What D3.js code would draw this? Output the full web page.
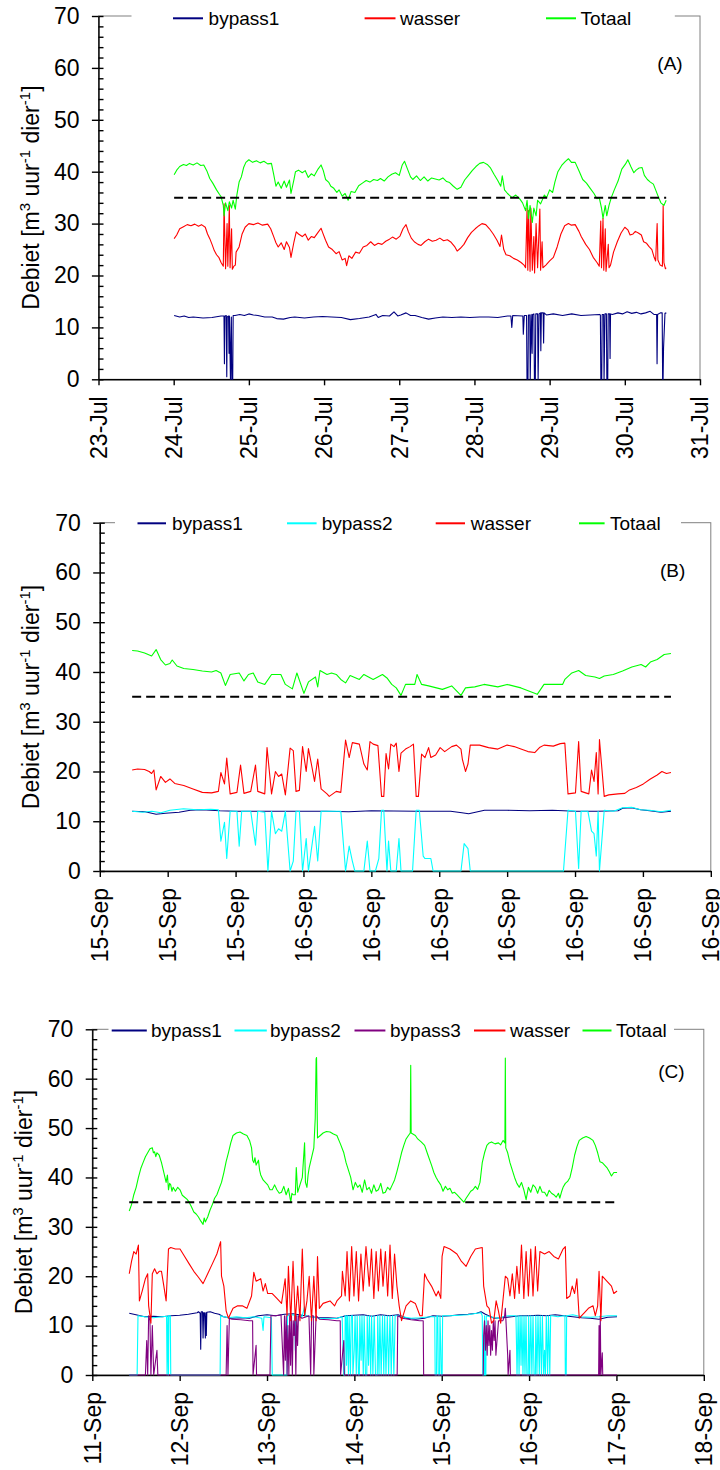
<!DOCTYPE html>
<html><head><meta charset="utf-8">
<script src="https://cdn.jsdelivr.net/npm/d3@7"></script>
<style>
body{margin:0;background:#fff}
svg{display:block}
text{font-family:"Liberation Sans",Arial,sans-serif;fill:#000}
</style></head>
<body><svg id="chart" width="720" height="1470"></svg>
<script>
// ---------------- DATA ----------------
const yTicks = [0,10,20,30,40,50,60,70];
const refLevel = 35;

// Panel A  (time = fractional day of July)
const aTickDays = [23,24,25,26,27,28,29,30,31];
const aTickLabels = ["23-Jul","24-Jul","25-Jul","26-Jul","27-Jul","28-Jul","29-Jul","30-Jul","31-Jul"];
const aNames = ["bypass1","wasser","Totaal"];
const aBypass1 = [[24.006,12.3],[24.08,12.0],[24.14,12.2],[24.20,11.9],[24.26,12.0],[24.39,11.8],[24.51,11.9],[24.63,12.2],
[24.669,12.2],[24.675,3.0],[24.681,12.2],[24.699,12.3],[24.706,0.5],[24.712,12.0],[24.730,12.2],[24.736,5.0],[24.742,12.2],[24.755,0],[24.767,12.0],[24.773,0],[24.785,0],[24.791,12.3],[24.816,12.3],
[24.88,12.5],[24.94,12.3],[25.00,12.6],[25.06,12.4],[25.12,12.3],[25.21,12.0],[25.31,12.0],[25.37,11.7],[25.46,11.6],[25.55,11.9],[25.61,12.0],[25.74,11.8],[25.86,12.0],[25.98,12.1],[26.10,12.0],[26.23,11.9],[26.35,11.5],[26.47,11.7],[26.60,12.0],[26.69,12.5],[26.72,11.9],[26.78,12.3],[26.87,12.2],[26.93,13.0],[26.98,12.2],[27.02,12.4],[27.09,12.8],[27.15,12.3],[27.21,12.3],[27.30,11.9],[27.39,11.6],[27.48,11.8],[27.58,12.0],[27.70,11.9],[27.82,12.0],[27.94,11.9],[28.07,12.0],[28.19,12.0],[28.31,11.9],[28.44,12.2],
[28.485,12.2],[28.497,10.0],[28.509,12.3],[28.644,12.2],[28.650,8.7],[28.663,12.3],
[28.693,12.3],[28.699,0],[28.712,0],[28.718,12.4],[28.736,12.4],[28.742,0],[28.755,12.5],[28.767,5],[28.773,12.5],[28.791,12.6],[28.798,0],[28.810,0],[28.816,12.6],[28.840,12.6],[28.847,0],[28.859,12.6],[28.877,12.8],[28.883,5.5],[28.890,12.8],[28.914,12.8],[28.920,7],[28.926,12.8],
[28.957,12.4],[29.049,12.6],[29.172,12.3],[29.294,12.6],[29.417,12.3],[29.540,12.4],[29.663,12.5],
[29.675,12.4],[29.681,0],[29.693,0],[29.699,12.5],[29.718,12.5],[29.724,0],[29.736,12.6],[29.755,12.6],[29.761,0],[29.773,0],[29.779,12.6],[29.798,12.6],[29.804,4],[29.810,12.6],[29.834,12.5],
[29.908,12.8],[29.969,12.6],[30.031,13.0],[30.092,12.7],[30.153,12.9],[30.215,12.6],[30.276,12.8],[30.337,13.1],[30.387,12.5],[30.423,12.5],[30.429,3],[30.436,12.5],[30.472,12.8],[30.497,12.8],[30.503,0],[30.509,0],[30.515,6],[30.534,12.7],[30.552,12.8]];
const aWasser = [[24.006,27.1],[24.04,27.8],[24.08,29.0],[24.13,29.4],[24.18,29.8],[24.23,29.6],[24.28,29.9],[24.33,29.5],[24.37,29.8],[24.42,29.3],[24.45,28.0],[24.48,27.1],[24.51,26.0],[24.54,24.8],[24.57,24.0],[24.60,23.5],[24.63,22.5],[24.66,21.8],[24.67,33.8],[24.69,21.3],[24.71,30.0],[24.72,21.8],[24.74,33.5],[24.75,21.5],[24.77,29.0],[24.78,21.2],[24.80,21.8],[24.82,22.0],[24.83,24.5],[24.87,25.5],[24.91,28.0],[24.95,29.3],[25.00,30.0],[25.06,29.8],[25.12,30.1],[25.18,29.7],[25.25,29.9],[25.29,29.0],[25.33,27.5],[25.36,26.3],[25.39,25.5],[25.43,26.3],[25.47,25.0],[25.50,26.5],[25.54,25.4],[25.56,23.5],[25.60,26.5],[25.63,28.4],[25.66,28.0],[25.71,27.5],[25.75,28.0],[25.79,26.8],[25.83,27.5],[25.87,27.3],[25.92,28.3],[25.96,29.1],[25.98,28.3],[26.02,26.8],[26.06,25.5],[26.11,25.0],[26.16,24.2],[26.20,24.6],[26.24,23.0],[26.28,23.3],[26.30,21.9],[26.33,23.8],[26.37,23.3],[26.42,24.5],[26.47,24.3],[26.52,25.5],[26.57,25.8],[26.62,26.5],[26.67,25.8],[26.72,26.2],[26.77,26.0],[26.82,26.6],[26.87,27.0],[26.91,27.4],[26.96,27.0],[27.01,27.6],[27.05,29.0],[27.09,29.8],[27.12,28.5],[27.16,27.2],[27.20,26.5],[27.25,26.0],[27.29,25.8],[27.34,26.5],[27.39,27.0],[27.44,26.6],[27.49,26.8],[27.54,27.2],[27.59,26.7],[27.64,26.9],[27.69,26.4],[27.74,25.5],[27.77,24.7],[27.81,25.2],[27.86,26.0],[27.91,27.3],[27.96,28.3],[28.01,29.0],[28.06,29.6],[28.10,30.0],[28.15,29.8],[28.20,29.0],[28.25,28.0],[28.30,26.8],[28.34,25.6],[28.36,27.8],[28.39,25.0],[28.42,24.0],[28.47,23.8],[28.52,23.3],[28.57,23.0],[28.62,22.5],[28.66,22.0],[28.68,21.5],[28.70,33.0],[28.71,21.0],[28.72,32.5],[28.74,20.8],[28.75,33.0],[28.77,21.0],[28.79,27.5],[28.80,20.5],[28.82,30.0],[28.84,21.5],[28.87,32.8],[28.88,21.0],[28.90,26.5],[28.91,21.5],[28.95,22.0],[29.00,22.8],[29.05,23.5],[29.10,25.5],[29.15,28.0],[29.20,29.6],[29.25,30.0],[29.29,29.7],[29.34,29.8],[29.39,28.5],[29.42,27.5],[29.48,26.0],[29.53,25.0],[29.58,23.5],[29.63,22.5],[29.66,21.8],[29.68,30.5],[29.69,21.5],[29.71,31.0],[29.72,21.0],[29.74,29.0],[29.75,20.8],[29.78,26.0],[29.79,21.5],[29.81,22.0],[29.85,24.5],[29.90,26.5],[29.95,28.2],[30.00,29.3],[30.04,28.8],[30.07,27.8],[30.11,28.0],[30.14,28.5],[30.18,28.2],[30.22,27.8],[30.25,26.5],[30.29,26.2],[30.32,25.6],[30.36,25.0],[30.39,23.5],[30.41,22.8],[30.43,30.0],[30.44,23.0],[30.47,22.0],[30.50,21.8],[30.51,33.5],[30.52,22.5],[30.54,21.3],[30.55,21.5]];
const aTotaal = [[24.006,39.4],[24.04,40.3],[24.08,41.0],[24.13,41.4],[24.17,41.2],[24.21,41.6],[24.26,41.3],[24.31,41.7],[24.36,41.2],[24.40,41.3],[24.44,40.2],[24.48,38.7],[24.52,37.8],[24.57,36.5],[24.61,35.6],[24.63,35.2],[24.66,33.5],[24.67,31.5],[24.69,34.0],[24.72,32.5],[24.74,34.2],[24.77,33.0],[24.79,34.5],[24.82,32.8],[24.84,35.5],[24.87,38.0],[24.90,39.0],[24.93,40.8],[24.96,41.8],[25.00,42.3],[25.05,41.8],[25.10,42.1],[25.15,41.7],[25.20,42.0],[25.25,41.5],[25.30,41.6],[25.33,39.5],[25.36,37.2],[25.39,38.0],[25.43,36.8],[25.47,38.2],[25.50,37.0],[25.54,38.4],[25.56,35.8],[25.60,38.5],[25.62,40.0],[25.66,40.3],[25.71,39.8],[25.75,40.2],[25.79,38.9],[25.83,39.6],[25.87,39.2],[25.92,40.5],[25.96,41.3],[25.99,40.2],[26.02,38.5],[26.06,38.0],[26.09,37.2],[26.13,36.8],[26.17,36.0],[26.20,36.5],[26.24,35.3],[26.28,35.8],[26.32,34.5],[26.36,36.2],[26.41,36.0],[26.46,37.3],[26.51,37.8],[26.56,38.3],[26.61,38.0],[26.66,38.5],[26.71,38.3],[26.75,38.7],[26.80,38.2],[26.85,39.0],[26.90,39.5],[26.95,39.8],[27.00,39.3],[27.04,41.3],[27.07,42.0],[27.11,40.5],[27.15,39.0],[27.18,38.5],[27.23,39.2],[27.28,38.3],[27.33,39.0],[27.38,38.2],[27.43,38.8],[27.48,38.6],[27.53,38.4],[27.58,38.8],[27.63,38.1],[27.67,37.9],[27.72,37.2],[27.77,36.6],[27.82,37.0],[27.87,38.4],[27.92,39.3],[27.97,40.2],[28.02,41.0],[28.07,41.6],[28.12,41.8],[28.17,41.4],[28.21,40.8],[28.26,39.5],[28.31,38.3],[28.35,37.2],[28.37,39.2],[28.40,36.5],[28.44,35.8],[28.50,35.0],[28.55,35.5],[28.60,34.8],[28.64,34.0],[28.68,32.5],[28.70,34.5],[28.72,31.0],[28.74,33.5],[28.77,30.2],[28.79,33.0],[28.82,31.5],[28.84,34.5],[28.88,33.8],[28.93,35.5],[28.96,35.0],[29.00,36.5],[29.04,36.0],[29.07,38.0],[29.11,40.0],[29.16,41.2],[29.21,42.0],[29.25,42.5],[29.29,41.8],[29.34,41.8],[29.39,40.2],[29.44,38.5],[29.49,37.8],[29.54,36.8],[29.59,35.8],[29.63,34.8],[29.66,35.0],[29.69,33.0],[29.71,31.0],[29.74,33.5],[29.76,31.5],[29.79,33.5],[29.82,35.0],[29.86,36.5],[29.91,38.2],[29.96,40.5],[30.01,41.5],[30.04,42.3],[30.08,41.0],[30.12,39.8],[30.15,40.3],[30.19,40.7],[30.23,40.8],[30.26,39.3],[30.30,38.5],[30.34,38.0],[30.38,37.6],[30.41,36.5],[30.45,35.0],[30.48,34.0],[30.52,33.5],[30.55,34.5]];

// Panel B  (time = hours after 15-Sep 00:00)
const bTickHours = [15,18,21,24,27,30,33,36,39,42];
const bTickLabels = ["15-Sep","15-Sep","15-Sep","16-Sep","16-Sep","16-Sep","16-Sep","16-Sep","16-Sep","16-Sep"];
const bNames = ["bypass1","bypass2","wasser","Totaal"];
const bBypass1 = [[16.43,12.0],[17.0,11.9],[17.49,11.4],[17.9,11.6],[18.5,11.8],[19.0,12.2],[19.5,12.3],[20.3,12.1],[21.0,12.0],[23.0,12.0],[25.0,12.0],[26.0,11.9],[27.0,12.1],[29.0,12.0],[30.5,12.0],[31.0,11.7],[31.3,11.5],[31.6,11.8],[32.0,12.2],[33.0,12.2],[34.0,12.1],[35.0,12.2],[36.0,12.0],[37.0,12.0],[37.9,12.1],[38.1,12.6],[38.5,12.7],[38.9,12.3],[39.3,12.1],[39.8,11.8],[40.24,12.0]];
const bBypass2 = [[16.43,12.0],[16.9,11.8],[17.3,12.0],[17.7,11.7],[18.1,12.2],[18.7,12.5],[19.3,12.3],[19.9,12.4],[20.24,12.3],[20.35,6.0],[20.51,9.8],[20.61,2.5],[20.76,12.0],[21.06,12.0],[21.16,5.0],[21.27,12.0],[21.67,12.0],[21.88,5.2],[21.98,12.0],[22.29,11.8],[22.43,0],[22.59,12.0],[22.76,7.5],[22.90,8.5],[23.04,8.0],[23.20,12.0],[23.41,0],[23.55,2.0],[23.67,12.0],[23.82,12.0],[23.96,0],[24.12,6.5],[24.22,0],[24.37,5.0],[24.49,9.0],[24.63,2.0],[24.78,12.0],[25.65,12.0],[25.86,0],[26.02,5.0],[26.16,2.0],[26.27,0],[26.67,0],[26.82,6.0],[26.94,0],[27.18,0],[27.33,2.5],[27.45,12.2],[27.55,12.2],[27.69,0],[27.76,6.0],[27.86,0],[28.10,0],[28.22,6.5],[28.31,0],[28.82,0],[28.98,12.2],[29.12,12.2],[29.29,3.0],[29.37,2.5],[29.63,2.5],[29.73,0],[30.96,0],[31.10,5.5],[31.27,4.5],[31.37,0],[35.49,0],[35.69,12.2],[36.02,12.0],[36.16,0.5],[36.27,12.0],[36.57,12.0],[36.73,8.0],[36.84,7.5],[36.94,3.0],[37.02,12.0],[37.08,0],[37.29,12.2],[37.7,12.0],[38.1,12.7],[38.5,12.8],[38.9,12.3],[39.3,12.2],[39.8,11.9],[40.24,12.2]];
const bWasser = [[16.43,20.3],[16.67,20.5],[16.98,20.4],[17.18,20.0],[17.29,19.6],[17.39,20.3],[17.49,16.3],[17.69,19.0],[17.90,17.8],[18.10,18.5],[18.31,17.6],[18.71,17.2],[19.12,16.5],[19.53,15.8],[19.94,15.7],[20.24,16.0],[20.35,19.8],[20.51,17.5],[20.61,22.7],[20.76,15.5],[21.06,15.8],[21.22,21.3],[21.37,15.6],[21.67,16.0],[21.88,21.3],[21.98,16.0],[22.29,15.5],[22.39,24.8],[22.59,15.5],[22.76,20.0],[22.90,19.0],[23.04,19.5],[23.20,15.3],[23.41,24.7],[23.55,24.2],[23.67,16.0],[23.82,16.2],[23.96,25.0],[24.12,20.0],[24.22,24.6],[24.37,21.0],[24.49,18.0],[24.63,22.5],[24.78,16.5],[25.04,15.5],[25.14,15.0],[25.45,16.0],[25.65,15.8],[25.86,26.3],[26.02,22.8],[26.16,25.8],[26.47,25.5],[26.67,21.5],[26.82,20.3],[26.94,26.0],[27.08,25.5],[27.29,25.2],[27.45,15.0],[27.55,15.0],[27.65,23.6],[27.76,20.5],[27.86,25.5],[28.00,25.0],[28.10,25.7],[28.22,20.0],[28.31,23.7],[28.51,24.5],[28.71,25.0],[28.86,25.5],[28.98,15.0],[29.08,15.0],[29.22,23.5],[29.37,22.8],[29.53,24.8],[29.63,22.8],[29.84,23.3],[30.04,24.8],[30.24,24.0],[30.55,25.0],[30.76,25.3],[30.96,24.5],[31.02,22.5],[31.16,20.0],[31.27,21.5],[31.37,25.3],[31.78,25.3],[32.18,24.8],[32.59,24.5],[33.00,25.3],[33.31,25.0],[33.61,24.5],[33.92,24.0],[34.22,23.8],[34.43,24.8],[34.63,25.3],[35.04,25.1],[35.35,25.6],[35.55,25.7],[35.69,15.5],[36.02,15.7],[36.16,26.0],[36.27,16.0],[36.47,15.7],[36.61,15.5],[36.73,20.3],[36.84,18.0],[36.94,23.8],[37.02,15.5],[37.08,26.4],[37.29,15.0],[37.49,15.3],[37.90,15.5],[38.20,15.6],[38.41,16.3],[38.71,16.8],[39.02,17.5],[39.33,18.5],[39.63,19.3],[39.84,20.0],[40.04,19.6],[40.24,19.8]];
const bTotaal = [[16.43,44.3],[16.67,44.2],[16.98,43.8],[17.29,43.2],[17.49,44.5],[17.69,42.5],[17.90,41.4],[18.10,41.7],[18.20,42.4],[18.41,41.2],[18.71,40.7],[19.12,40.5],[19.53,40.2],[19.94,40.0],[20.14,40.3],[20.35,39.8],[20.55,37.3],[20.76,39.5],[21.16,39.8],[21.37,38.2],[21.57,39.5],[21.78,39.8],[21.98,38.0],[22.29,37.5],[22.59,39.5],[23.00,39.5],[23.20,37.5],[23.51,36.6],[23.71,39.8],[24.02,35.7],[24.22,38.0],[24.53,39.0],[24.63,37.0],[24.73,40.3],[25.04,39.5],[25.24,39.8],[25.45,39.5],[25.65,38.5],[25.86,37.8],[26.06,39.3],[26.47,38.5],[26.67,39.5],[27.08,38.5],[27.49,39.5],[27.69,38.8],[27.90,37.5],[28.10,36.8],[28.31,35.3],[28.51,37.5],[28.92,37.5],[29.02,39.5],[29.22,37.5],[29.53,37.2],[30.14,36.5],[30.55,37.2],[30.96,35.3],[31.16,36.8],[31.57,37.0],[31.98,37.5],[32.59,37.0],[33.00,37.5],[33.61,36.8],[34.33,35.5],[34.63,37.5],[35.45,37.5],[35.55,38.5],[35.86,39.8],[36.16,40.3],[36.47,39.3],[36.88,39.0],[37.08,38.7],[37.29,39.2],[37.69,39.5],[38.10,40.2],[38.51,41.0],[38.92,41.5],[39.12,41.0],[39.33,42.0],[39.63,42.5],[39.94,43.5],[40.24,43.7]];

// Panel C  (time = fractional day of September)
const cTickDays = [11,12,13,14,15,16,17,18];
const cTickLabels = ["11-Sep","12-Sep","13-Sep","14-Sep","15-Sep","16-Sep","17-Sep","18-Sep"];
const cNames = ["bypass1","bypass2","bypass3","wasser","Totaal"];
const cBypass1 = [[11.423,12.5],[11.5,12.2],[11.6,11.8],[11.7,11.9],[11.8,11.8],[11.9,12.0],[12.0,12.1],[12.1,12.3],[12.2,12.6],[12.215,12.8],[12.235,12.5],[12.241,5.2],[12.247,12.8],[12.262,12.8],[12.268,7.5],[12.274,12.6],[12.285,12.6],[12.294,7.5],[12.300,12.6],[12.305,8.0],[12.311,12.7],[12.35,12.8],[12.4,12.5],[12.45,12.3],[12.5,11.8],[12.6,11.5],[12.7,11.6],[12.8,11.5],[12.9,12.0],[13.0,12.2],[13.1,12.0],[13.2,12.3],[13.3,12.4],[13.4,12.1],[13.5,11.8],[13.6,11.6],[13.7,11.6],[13.8,11.5],[13.9,12.0],[14.0,12.1],[14.1,12.2],[14.2,11.9],[14.3,12.2],[14.4,12.0],[14.5,12.2],[14.6,11.5],[14.7,11.3],[14.8,11.5],[14.9,12.0],[15.0,11.9],[15.1,12.0],[15.2,12.2],[15.3,12.3],[15.4,12.5],[15.45,12.8],[15.5,12.3],[15.6,11.5],[15.7,11.6],[15.8,11.8],[15.9,12.0],[16.0,12.0],[16.1,12.1],[16.2,12.0],[16.3,12.2],[16.4,12.0],[16.5,11.8],[16.6,11.6],[16.7,11.5],[16.8,11.3],[16.9,11.7],[17.007,11.8]];
const cBypass2 = [[11.423,0],[11.513,0],[11.523,12.0],[11.60,11.8],[11.70,11.6],[11.80,11.8],[11.850,11.9],[11.856,0],[11.861,8.0],[11.866,12.0],[11.872,0],[11.877,12.0],[11.893,12.0],[11.898,0],[11.909,0],[12.2,0],[12.463,0],[12.469,12.0],[12.55,11.6],[12.65,11.8],[12.75,11.6],[12.85,11.8],[12.94,11.5],[12.955,9.0],[12.965,11.8],[13.05,11.6],[13.060,0],[13.229,0],[13.235,12.0],[13.30,12.2],[13.320,12.0],[13.324,5],[13.330,12],[13.40,11.8],[13.430,13.8],[13.440,12.0],[13.5,11.8],[13.6,11.5],[13.7,11.4],[13.8,11.5],
[13.86,11.8],[13.878,0],[13.89,0],[13.895,12],[13.905,12],[13.91,2],[13.92,12],[13.932,0],[13.94,12],[13.955,0],[13.965,12],[13.978,12],[13.983,0],[13.998,5],[14.008,12],[14.022,0],[14.032,12],[14.047,0],[14.057,0],[14.062,12],[14.077,3],[14.087,12],[14.102,0],[14.112,12],[14.127,0],[14.142,0],[14.147,12],[14.162,2],[14.172,12],[14.187,0],[14.197,12],[14.212,0],[14.227,12],[14.242,0],[14.262,0],[14.267,12],[14.282,0],[14.292,12],[14.307,0],[14.322,12],[14.337,0],[14.347,12],[14.362,0],[14.377,12],[14.392,0],[14.407,12],[14.422,0],[14.437,12],[14.452,0],[14.467,12],[14.49,12],
[14.55,11.8],[14.65,11.5],[14.75,11.6],[14.88,11.8],[14.920,11.8],[14.925,0],[14.940,0],[14.945,12],[14.955,12],[14.960,0],[14.975,0],[14.980,12],[14.990,5],[14.995,0],[15.005,0],[15.010,12],[15.10,12.0],[15.20,12.1],[15.30,12.2],[15.40,12.5],[15.45,12.6],[15.464,12.0],[15.470,0],[15.485,0],[15.490,12],[15.495,0],[15.505,0],[15.510,12],[15.55,11.8],[15.65,11.5],[15.70,11.8],[15.76,12.0],
[15.85,12],[15.862,0],[15.875,12],[15.885,0],[15.897,12],[15.908,2],[15.918,12],[15.93,0],[15.942,12],[15.953,0],[15.965,12],[15.975,0],[15.99,0],[15.995,12],[16.007,0],[16.02,12],[16.032,0],[16.045,12],[16.057,0],[16.072,0],[16.077,12],[16.09,0],[16.102,12],[16.117,0],[16.127,12],[16.142,0],[16.152,12],[16.167,0],[16.177,5],[16.187,0],[16.197,12],[16.212,0],[16.222,12],[16.237,0],[16.247,12],[16.26,12],
[16.33,11.8],[16.40,12.0],[16.410,12],[16.415,0],[16.425,0],[16.430,12],[16.50,12.2],[16.60,11.8],[16.70,11.7],[16.80,11.8],[16.90,12.0],[17.007,12.0]];
const cBypass3 = [[11.423,0],[11.608,0],[11.623,7],[11.634,0],[11.645,12],[11.660,11],[11.671,0],[11.687,10],[11.703,0],[11.740,5],[11.750,0],[12.532,0],[12.543,10],[12.553,0],[12.569,11.5],[12.6,11.3],[12.7,11.2],[12.8,11.0],[12.835,11.0],[12.840,0],[12.875,6],[12.880,0],[13.034,0],[13.045,12],[13.10,12.0],[13.16,12.2],[13.19,0],[13.20,12],[13.21,3],[13.22,12],[13.23,0],[13.24,10],[13.25,0],[13.26,12],[13.27,2],[13.28,12],[13.29,0],[13.30,11],[13.31,8],[13.32,12],[13.33,0],[13.34,12],[13.35,6],[13.36,12],[13.40,11.5],[13.45,11.8],[13.48,12],[13.50,0],[13.51,12],[13.530,12],[13.536,0],[13.562,12],[13.60,11.3],[13.70,11.2],[13.80,11.0],[13.838,11.0],[13.842,0],[13.879,7],[13.885,0],[14.490,0],[14.497,12],[14.55,11.5],[14.65,11.2],[14.75,11.0],[14.788,11.0],[14.793,0],[15.475,0],[15.480,8],[15.49,11],[15.50,5],[15.51,10],[15.52,4],[15.53,11],[15.54,6],[15.55,10],[15.56,4],[15.57,9],[15.58,5],[15.59,11],[15.60,7],[15.61,11],[15.62,4],[15.65,11],[15.70,11],[15.72,12],[15.728,13.5],[15.755,4],[15.760,0],[15.781,5],[15.786,0],[16.796,0],[16.801,10],[16.808,0],[16.815,12],[16.822,0],[16.838,4.5],[16.843,0],[17.007,0]];
const cWasser = [[11.423,20.5],[11.449,23.0],[11.475,25.0],[11.502,24.5],[11.528,26.3],[11.539,15.0],[11.571,17.0],[11.608,19.5],[11.634,20.5],[11.645,14.0],[11.671,10.5],[11.687,20.5],[11.713,21.5],[11.740,20.5],[11.766,21.0],[11.792,21.0],[11.819,18.0],[11.845,15.0],[11.872,25.5],[11.898,25.8],[11.951,25.5],[12.004,25.5],[12.057,24.0],[12.109,22.5],[12.162,21.0],[12.215,19.8],[12.268,18.5],[12.321,20.5],[12.374,22.5],[12.426,24.5],[12.469,27.0],[12.479,20.0],[12.506,18.0],[12.532,13.0],[12.558,11.5],[12.611,13.5],[12.664,14.0],[12.717,14.0],[12.770,13.5],[12.823,16.0],[12.849,20.8],[12.875,19.0],[12.928,19.5],[12.955,17.0],[12.981,18.5],[13.008,16.5],[13.060,16.5],[13.113,15.5],[13.166,14.5],[13.208,19.5],[13.229,12.0],[13.245,22.0],[13.272,11.0],[13.298,23.0],[13.324,11.0],[13.351,18.0],[13.377,11.0],[13.404,25.5],[13.430,12.0],[13.457,15.0],[13.483,20.0],[13.509,11.0],[13.536,20.0],[13.562,11.0],[13.578,24.0],[13.599,13.5],[13.642,14.5],[13.721,15.0],[13.774,14.0],[13.800,15.0],[13.853,16.0],[13.863,21.0],[13.895,16.0],[13.916,25.0],[13.943,15.0],[13.969,26.0],[13.995,16.0],[14.022,25.0],[14.048,15.0],[14.075,24.5],[14.101,17.0],[14.133,26.0],[14.170,18.0],[14.196,25.5],[14.223,15.5],[14.249,25.0],[14.275,17.0],[14.302,25.5],[14.328,18.0],[14.355,25.0],[14.381,16.0],[14.408,26.3],[14.434,15.5],[14.460,24.5],[14.487,18.0],[14.513,14.0],[14.540,11.0],[14.592,14.0],[14.645,15.0],[14.698,14.5],[14.751,12.0],[14.777,12.0],[14.804,20.5],[14.830,19.5],[14.883,18.0],[14.936,16.0],[14.962,17.0],[14.989,15.5],[15.004,24.0],[15.026,26.0],[15.094,25.5],[15.174,24.5],[15.226,23.0],[15.279,22.0],[15.332,24.0],[15.385,25.5],[15.464,25.8],[15.480,18.0],[15.517,14.0],[15.543,13.5],[15.570,10.5],[15.596,11.0],[15.623,15.0],[15.649,13.0],[15.675,10.5],[15.728,20.0],[15.755,19.5],[15.781,16.0],[15.808,20.5],[15.834,15.5],[15.860,22.0],[15.887,16.5],[15.913,26.3],[15.940,15.5],[15.966,25.0],[15.992,16.0],[16.019,25.5],[16.045,16.0],[16.072,26.0],[16.098,17.0],[16.124,25.0],[16.177,24.5],[16.230,25.0],[16.283,24.0],[16.336,23.5],[16.389,25.5],[16.415,26.0],[16.431,15.5],[16.468,16.0],[16.494,18.0],[16.521,16.5],[16.547,19.5],[16.574,11.5],[16.626,12.5],[16.679,13.5],[16.732,14.0],[16.758,12.0],[16.785,14.0],[16.801,21.0],[16.822,11.0],[16.838,20.0],[16.890,19.0],[16.943,18.0],[16.970,16.5],[17.007,17.0]];
const cTotaal = [[11.423,33.2],[11.449,34.5],[11.475,36.5],[11.502,38.0],[11.528,40.0],[11.555,41.8],[11.581,43.0],[11.608,44.2],[11.634,45.0],[11.660,45.8],[11.687,46.0],[11.700,45.0],[11.713,45.2],[11.727,44.2],[11.740,45.0],[11.766,44.5],[11.792,43.0],[11.819,41.0],[11.845,39.0],[11.860,40.5],[11.872,37.5],[11.885,38.8],[11.898,38.5],[11.912,37.2],[11.925,38.0],[11.951,37.2],[11.978,38.0],[12.004,37.5],[12.030,36.4],[12.057,36.0],[12.083,35.6],[12.109,35.0],[12.136,34.0],[12.162,33.0],[12.189,32.6],[12.215,32.0],[12.241,31.2],[12.268,30.5],[12.281,31.8],[12.294,31.0],[12.321,32.0],[12.348,33.4],[12.374,34.5],[12.400,35.8],[12.426,36.5],[12.453,37.8],[12.479,39.0],[12.506,41.0],[12.532,43.2],[12.558,45.0],[12.585,47.0],[12.611,48.5],[12.650,49.0],[12.691,49.2],[12.730,48.8],[12.770,48.5],[12.800,47.5],[12.823,46.0],[12.836,43.5],[12.849,43.0],[12.862,44.0],[12.875,42.5],[12.902,43.5],[12.915,41.5],[12.928,40.5],[12.955,39.5],[12.981,39.0],[13.008,38.5],[13.034,37.5],[13.060,37.5],[13.087,38.5],[13.113,37.5],[13.140,36.8],[13.166,37.0],[13.192,38.2],[13.219,36.5],[13.245,37.8],[13.272,35.0],[13.285,36.8],[13.298,36.5],[13.324,36.5],[13.335,42.0],[13.351,37.0],[13.377,38.5],[13.404,40.0],[13.430,47.0],[13.440,39.0],[13.457,38.0],[13.470,40.5],[13.483,42.0],[13.510,44.0],[13.536,46.0],[13.552,52.0],[13.562,64.0],[13.567,64.3],[13.578,48.0],[13.610,48.5],[13.642,49.0],[13.680,49.3],[13.721,49.2],[13.760,48.8],[13.800,48.5],[13.840,46.8],[13.879,45.0],[13.905,43.0],[13.932,41.5],[13.958,40.0],[13.985,37.5],[14.011,39.0],[14.038,38.0],[14.064,38.5],[14.090,37.0],[14.117,39.5],[14.143,37.5],[14.170,38.0],[14.196,36.8],[14.223,38.5],[14.249,37.2],[14.275,37.5],[14.302,38.8],[14.328,36.8],[14.355,37.0],[14.381,38.0],[14.408,37.5],[14.434,38.5],[14.460,39.5],[14.487,41.2],[14.513,43.0],[14.540,45.0],[14.566,46.5],[14.592,47.8],[14.619,48.5],[14.640,49.0],[14.645,62.7],[14.650,49.0],[14.698,48.5],[14.725,47.8],[14.765,47.2],[14.804,46.5],[14.843,44.5],[14.883,42.5],[14.910,41.0],[14.936,40.0],[14.962,39.2],[14.989,38.5],[15.015,37.2],[15.042,38.2],[15.068,37.5],[15.094,37.8],[15.121,36.8],[15.147,37.0],[15.174,36.5],[15.200,36.0],[15.226,35.5],[15.253,35.0],[15.279,35.8],[15.306,36.5],[15.332,37.2],[15.358,37.5],[15.385,38.2],[15.411,37.6],[15.438,39.0],[15.451,41.0],[15.464,43.0],[15.490,45.0],[15.517,46.5],[15.543,47.0],[15.570,47.2],[15.610,46.8],[15.649,47.0],[15.675,46.6],[15.702,47.5],[15.723,47.0],[15.728,64.2],[15.733,46.0],[15.755,45.0],[15.781,43.0],[15.808,41.5],[15.834,40.0],[15.860,38.8],[15.887,38.0],[15.913,39.0],[15.940,37.5],[15.966,35.5],[15.992,38.0],[16.019,37.0],[16.045,38.5],[16.072,38.0],[16.098,36.8],[16.124,38.2],[16.150,37.0],[16.177,37.0],[16.204,36.2],[16.230,37.4],[16.257,36.8],[16.283,36.5],[16.310,36.0],[16.336,36.8],[16.352,35.8],[16.370,37.0],[16.389,38.0],[16.415,38.8],[16.441,39.2],[16.468,40.0],[16.494,42.0],[16.521,44.5],[16.547,46.2],[16.574,47.5],[16.613,48.0],[16.653,48.3],[16.692,48.0],[16.732,47.5],[16.758,46.5],[16.785,45.0],[16.811,43.2],[16.838,43.0],[16.864,42.5],[16.890,42.0],[16.917,41.2],[16.943,40.3],[16.970,41.0],[17.007,41.0]];

// ---------------- LAYOUT / STYLE ----------------
const colors = {bypass1:"#000080", bypass2:"#00FFFF", bypass3:"#800080", wasser:"#FF0000", Totaal:"#00FF00"};
const fromJul = d => new Date(Date.UTC(2008,6,1) + (d-1)*864e5);
const fromSepDay = d => new Date(Date.UTC(2008,8,1) + (d-1)*864e5);
const fromSepHour = h => new Date(Date.UTC(2008,8,15) + h*36e5);

const panels = [
  {left:98.5, right:700, top:16, bottom:379.3, conv:fromJul, xDom:[23,31], ticks:aTickDays, labels:aTickLabels,
   names:aNames, series:[aBypass1,aWasser,aTotaal], tag:"(A)", tagPos:[670,63.3],
   legendGap:[131.5,674.8], legendY:18.3,
   legendX:[[173,203,208.6],[364.6,395.5,400],[546,576,580.6]],
   yLabel:[39,197.6]},
  {left:99.8, right:710.8, top:522.7, bottom:871, conv:fromSepHour, xDom:[15,42], ticks:bTickHours, labels:bTickLabels,
   names:bNames, series:[bBypass1,bBypass2,bWasser,bTotaal], tag:"(B)", tagPos:[672.7,570],
   legendGap:[115,681], legendY:523.3,
   legendX:[[137.5,166,172],[287,316.6,321.7],[435.7,465,470.8],[579,604.6,610]],
   yLabel:[39.2,697]},
  {left:92.3, right:703.8, top:1029.3, bottom:1375, conv:fromSepDay, xDom:[11,18], ticks:cTickDays, labels:cTickLabels,
   names:cNames, series:[cBypass1,cBypass2,cBypass3,cWasser,cTotaal], tag:"(C)", tagPos:[671.5,1071.7],
   legendGap:[108.5,674], legendY:1030.5,
   legendX:[[111.7,146.8,151],[234.5,266.8,270],[354.5,385.4,390],[474,505.4,510],[582.5,611.5,616]],
   yLabel:[32.3,1202]}
];

const svg = d3.select("#chart");

panels.forEach(p => {
  const g = svg.append("g");
  const x = d3.scaleUtc().domain(p.xDom.map(p.conv)).range([p.left, p.right]);
  const y = d3.scaleLinear().domain([0,70]).range([p.bottom, p.top]);

  // plot area frame (grey)
  g.append("rect").attr("x",p.left).attr("y",p.top)
    .attr("width",p.right-p.left).attr("height",p.bottom-p.top)
    .attr("fill","none").attr("stroke","#808080").attr("stroke-width",1);

  // y axis: major (outward) + minor (inward)
  const yMinor = g.append("g").attr("transform",`translate(${p.left},0)`)
    .call(d3.axisLeft(y).tickValues(d3.range(0,71,2)).tickSize(-5).tickFormat(""));
  yMinor.select(".domain").remove();
  const yAx = g.append("g").attr("transform",`translate(${p.left},0)`)
    .call(d3.axisLeft(y).tickValues(yTicks).tickSize(6.6).tickSizeOuter(0).tickPadding(12.4));
  yAx.selectAll("text").attr("font-size",23).attr("font-family",null);

  // x axis
  const xAx = g.append("g").attr("transform",`translate(0,${p.bottom})`)
    .call(d3.axisBottom(x).tickValues(p.ticks.map(p.conv)).tickSize(6).tickSizeOuter(0)
      .tickFormat((d,i)=>p.labels[i]));
  xAx.selectAll("text").attr("font-size",23).attr("font-family",null)
    .attr("transform","rotate(-90)").attr("text-anchor","end")
    .attr("x",-17).attr("y",0).attr("dy","0.34em");
  [yMinor,yAx,xAx].forEach(a=>{a.attr("font-family",null); a.selectAll("path,line").attr("stroke","#000").attr("stroke-width",1.4);});

  // series
  const line = d3.line().x(d=>x(p.conv(d[0]))).y(d=>y(d[1]));
  p.series.forEach((s,i)=>{
    g.append("path").datum(s).attr("d",line).attr("fill","none")
      .attr("stroke",colors[p.names[i]]).attr("stroke-width",1.1).attr("stroke-linejoin","round");
  });

  // reference (dashed) line over the data period
  const tot = p.series[p.series.length-1];
  g.append("line").attr("x1",x(p.conv(tot[0][0]))).attr("x2",x(p.conv(tot[tot.length-1][0])))
    .attr("y1",y(refLevel)).attr("y2",y(refLevel))
    .attr("stroke","#000").attr("stroke-width",2).attr("stroke-dasharray","9,5");

  // legend (white box over top frame)
  g.append("rect").attr("x",p.legendGap[0]).attr("y",p.top-3).attr("width",p.legendGap[1]-p.legendGap[0]).attr("height",6).attr("fill","#fff");
  p.names.forEach((n,i)=>{
    const [a,b,t] = p.legendX[i];
    g.append("line").attr("x1",a).attr("x2",b).attr("y1",p.legendY).attr("y2",p.legendY)
      .attr("stroke",colors[n]).attr("stroke-width",2);
    g.append("text").attr("x",t).attr("y",p.legendY).attr("dy","0.35em").attr("font-size",19).text(n);
  });

  // panel tag
  g.append("text").attr("x",p.tagPos[0]).attr("y",p.tagPos[1]).attr("dy","0.35em")
    .attr("text-anchor","middle").attr("font-size",19).text(p.tag);

  // y-axis title
  const yl = g.append("text").attr("transform",`translate(${p.yLabel[0]},${p.yLabel[1]}) rotate(-90)`)
    .attr("text-anchor","middle").attr("font-size",23);
  yl.append("tspan").text("Debiet [m");
  yl.append("tspan").attr("dy",-9).attr("font-size",15).text("3");
  yl.append("tspan").attr("dy",9).text(" uur");
  yl.append("tspan").attr("dy",-9).attr("font-size",15).text("-1");
  yl.append("tspan").attr("dy",9).text(" dier");
  yl.append("tspan").attr("dy",-9).attr("font-size",15).text("-1");
  yl.append("tspan").attr("dy",9).text("]");
});
</script>
</body></html>
